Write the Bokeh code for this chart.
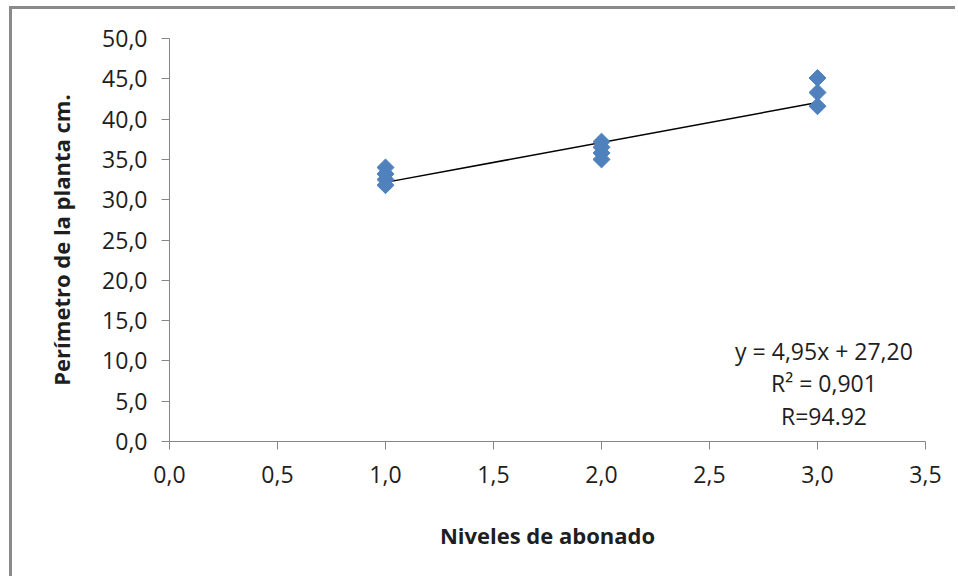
import math
from bokeh.plotting import figure
from bokeh.models import ColumnDataSource, Label, FixedTicker, Range1d
from bokeh.embed import file_html
from bokeh.resources import INLINE

# ---- data ----
nivel = [1, 1, 1, 1, 2, 2, 2, 2, 3, 3, 3]
perimetro = [34.0, 33.2, 32.5, 31.8, 37.2, 36.5, 35.8, 35.0, 45.1, 43.3, 41.6]

x_ticks = [0.0, 0.5, 1.0, 1.5, 2.0, 2.5, 3.0, 3.5]
x_tick_labels = ["0,0", "0,5", "1,0", "1,5", "2,0", "2,5", "3,0", "3,5"]
y_ticks = [0, 5, 10, 15, 20, 25, 30, 35, 40, 45, 50]
y_tick_labels = ["0,0", "5,0", "10,0", "15,0", "20,0", "25,0", "30,0",
                 "35,0", "40,0", "45,0", "50,0"]

slope = 4.95
intercept = 27.20
r_squared = 0.901
r_label = "R=94.92"
trend_x = [1.0, 3.0]

x_title = "Niveles de abonado"
y_title = "Perímetro de la planta cm."

FONT = "Open Sans"
AXIS_GRAY = "#868686"
TEXT = "#1e1e1e"

p = figure(width=946, height=570, output_backend="svg", toolbar_location=None,
           x_range=Range1d(0, 3.5), y_range=Range1d(0, 50),
           min_border_left=157, min_border_right=33,
           min_border_top=29, min_border_bottom=138)
p.styles = {"margin-left": "9px", "margin-top": "6px",
            "border-left": "3px solid #8a8a8a", "border-top": "3px solid #8a8a8a"}
p.outline_line_color = None
p.xgrid.visible = False
p.ygrid.visible = False
p.background_fill_color = "white"
p.border_fill_color = "white"

src = ColumnDataSource(dict(x=nivel, y=perimetro))
tsrc = ColumnDataSource(dict(x=trend_x, y=[slope * v + intercept for v in trend_x]))

p.line("x", "y", source=tsrc, line_color="black", line_width=1.5)
p.scatter("x", "y", source=src, marker="square", angle=math.pi / 4, size=12,
          fill_color="#4F81BD", line_color="#4F81BD")

for ax, ticks, labels in ((p.xaxis[0], x_ticks, x_tick_labels),
                          (p.yaxis[0], y_ticks, y_tick_labels)):
    ax.ticker = FixedTicker(ticks=ticks)
    ax.major_label_overrides = {t: l for t, l in zip(ticks, labels)}
    ax.minor_tick_line_color = None
    ax.major_tick_in = 0
    ax.major_tick_out = 8
    ax.axis_line_color = AXIS_GRAY
    ax.major_tick_line_color = AXIS_GRAY
    ax.major_label_text_font = FONT
    ax.major_label_text_font_size = "23px"
    ax.major_label_text_color = TEXT
    ax.axis_label_text_font = FONT
    ax.axis_label_text_font_style = "bold"
    ax.axis_label_text_font_size = "22px"
    ax.axis_label_text_color = TEXT

p.xaxis.axis_label = x_title
p.yaxis.axis_label = y_title
p.xaxis.major_label_standoff = 16
p.yaxis.major_label_standoff = 14
p.xaxis.axis_label_standoff = 34
p.yaxis.axis_label_standoff = 23

eq_lines = [
    "y = " + f"{slope:.2f}".replace(".", ",") + "x + " + f"{intercept:.2f}".replace(".", ","),
    "R² = " + f"{r_squared:.3f}".replace(".", ","),
    r_label,
]
for i, t in enumerate(eq_lines):
    p.add_layout(Label(x=3.03, y=11.2 - 4.0 * i, text=t, text_font=FONT,
                       text_font_size="23px", text_color=TEXT,
                       text_align="center", text_baseline="middle"))

open("out.html", "w").write(file_html(p, INLINE))
